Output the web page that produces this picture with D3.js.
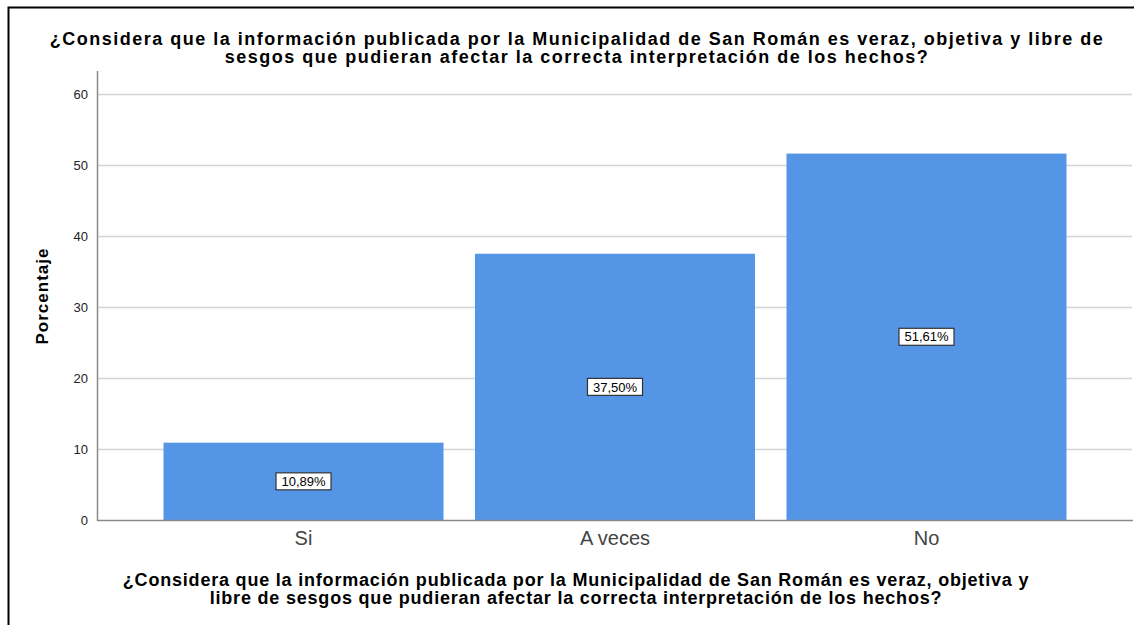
<!DOCTYPE html>
<html><head><meta charset="utf-8">
<script src="https://cdn.jsdelivr.net/npm/d3@7"></script>
<style>body{margin:0;background:#fff}svg{display:block}</style>
</head><body>
<svg id="c" width="1134" height="625"></svg>
<script>
const categories = ["Si", "A veces", "No"];
const values = [10.89, 37.50, 51.61];
const valueLabels = ["10,89%", "37,50%", "51,61%"];
const yTicks = [0, 10, 20, 30, 40, 50, 60];
const titleLines = ["¿Considera que la información publicada por la Municipalidad de San Román es veraz, objetiva y libre de", "sesgos que pudieran afectar la correcta interpretación de los hechos?"];
const xTitleLines = ["¿Considera que la información publicada por la Municipalidad de San Román es veraz, objetiva y", "libre de sesgos que pudieran afectar la correcta interpretación de los hechos?"];
const yTitle = "Porcentaje";

const svg = d3.select("#c");
const font = "'Liberation Sans', Arial, sans-serif";

// outer frame
svg.append("path").attr("d", "M8.5,625 V7.5 H1134").attr("fill", "none").attr("stroke", "#000").attr("stroke-width", 2);

const x = d3.scaleBand().domain(categories).range([97, 1133]).paddingInner(0.101).paddingOuter(0.2135);
const y = d3.scaleLinear().domain([0, 60]).range([520, 94]);

// gridlines
svg.append("g").selectAll("line").data(yTicks.filter(d => d > 0)).join("line")
  .attr("x1", 97).attr("x2", 1132).attr("y1", d => y(d) + 0.5).attr("y2", d => y(d) + 0.5)
  .attr("stroke", "#d4d4d4").attr("stroke-width", 1.5);

// bars
svg.append("g").selectAll("rect").data(values).join("rect")
  .attr("x", (d, i) => x(categories[i])).attr("width", x.bandwidth())
  .attr("y", d => y(d)).attr("height", d => y(0) - y(d))
  .attr("fill", "#5595e5");

// axes
const yAxis = d3.axisLeft(y).tickValues(yTicks).tickSize(0).tickPadding(9);
const gy = svg.append("g").attr("transform", "translate(97,0)").call(yAxis);
gy.select(".domain").remove();
gy.selectAll("text").attr("font-family", font).attr("font-size", 13).attr("fill", "#222");
svg.append("line").attr("x1", 97.5).attr("x2", 97.5).attr("y1", 71).attr("y2", 521).attr("stroke", "#8a8a8a").attr("stroke-width", 1.5);
svg.append("line").attr("x1", 97).attr("x2", 1133).attr("y1", 520.5).attr("y2", 520.5).attr("stroke", "#8a8a8a").attr("stroke-width", 1.5);

const xAxis = d3.axisBottom(x).tickSize(0).tickPadding(10);
const gx = svg.append("g").attr("transform", "translate(0,521)").call(xAxis);
gx.select(".domain").remove();
gx.selectAll("text").attr("font-family", font).attr("font-size", 20).attr("fill", "#444");

// value labels
const lab = svg.append("g").selectAll("g").data(values).join("g")
  .attr("transform", (d, i) => `translate(${x(categories[i]) + x.bandwidth() / 2},${(y(d) + y(0)) / 2})`);
lab.append("rect").attr("x", -27.5).attr("y", -8.5).attr("width", 55).attr("height", 17)
  .attr("fill", "#fff").attr("stroke", "#333").attr("stroke-width", 1.2);
lab.append("text").attr("text-anchor", "middle").attr("dy", "0.36em")
  .attr("font-family", font).attr("font-size", 13).attr("fill", "#000")
  .text((d, i) => valueLabels[i]);

// title
svg.append("g").selectAll("text").data(titleLines).join("text")
  .attr("x", 577).attr("y", (d, i) => 45 + i * 18).attr("text-anchor", "middle")
  .attr("font-family", font).attr("font-weight", "bold").attr("font-size", 18)
  .attr("letter-spacing", 1.5).attr("fill", "#000")
  .text(d => d);

// x title
svg.append("g").selectAll("text").data(xTitleLines).join("text")
  .attr("x", 576).attr("y", (d, i) => 586 + i * 18).attr("text-anchor", "middle")
  .attr("font-family", font).attr("font-weight", "bold").attr("font-size", 18)
  .attr("letter-spacing", 0.8).attr("fill", "#000")
  .text(d => d);

// y title
svg.append("text").attr("transform", "translate(48,296) rotate(-90)").attr("text-anchor", "middle")
  .attr("font-family", font).attr("font-weight", "bold").attr("font-size", 17)
  .attr("letter-spacing", 1).attr("fill", "#000")
  .text(yTitle);
</script>
</body></html>
